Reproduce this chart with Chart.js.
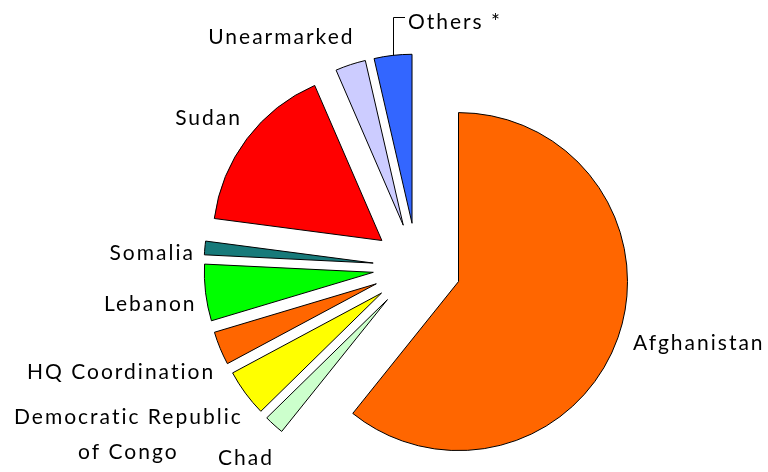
<!DOCTYPE html>
<html>
<head>
<meta charset="utf-8">
<script src="https://cdn.jsdelivr.net/npm/chart.js@4.4.0/dist/chart.umd.min.js"></script>
<style>
  html, body { margin: 0; padding: 0; background: #ffffff; }
  #wrap { width: 768px; height: 472px; }
</style>
</head>
<body>
<div id="wrap"><canvas id="chart" width="768" height="472"></canvas></div>
<script>
// Funding shares by destination (percent of total)
const categories = ['Afghanistan', 'Chad', 'Democratic Republic of Congo', 'HQ Coordination',
                    'Lebanon', 'Somalia', 'Sudan', 'Unearmarked', 'Others *'];
const shares = [60.7, 1.9, 4.5, 3.2, 5.4, 1.3, 16.4, 2.9, 3.6];
const labelLines = [['Afghanistan'], ['Chad'], ['Democratic Republic', 'of Congo'], ['HQ Coordination'],
                    ['Lebanon'], ['Somalia'], ['Sudan'], ['Unearmarked'], ['Others *']];
const sliceColors = ['#FF6600', '#CCFFCC', '#FFFF00', '#FF6600', '#00FF00',
                     '#177A7A', '#FF0000', '#CCCCFF', '#3366FF'];

// Distance every slice is pulled out from the centre
const EXPLODE = 44;

// Label placement relative to the outer midpoint of each slice
const labelLayout = [
  { dx: 15,   dy: 6,   align: 'left' },
  { dx: -28,  dy: 33,  align: 'center' },
  { dx: -117, dy: 24,  align: 'center', lineStep: 35 },
  { dx: -5,   dy: 24,  align: 'right' },
  { dx: -9,   dy: 12,  align: 'right' },
  { dx: -10,  dy: 5,   align: 'right' },
  { dx: -5,   dy: -20, align: 'right' },
  { dx: 4,    dy: -27, align: 'right' },
  { dx: 15,   dy: -33, align: 'left', leader: { up: 38, right: 12 } }
];

const explodePlugin = {
  id: 'explode',
  afterDatasetUpdate(chart, args) {
    args.meta.data.forEach(arc => {
      const mid = (arc.startAngle + arc.endAngle) / 2;
      arc.x += Math.cos(mid) * EXPLODE;
      arc.y += Math.sin(mid) * EXPLODE;
    });
  }
};

const sliceLabelPlugin = {
  id: 'sliceLabels',
  afterDatasetsDraw(chart) {
    const ctx = chart.ctx;
    const arcs = chart.getDatasetMeta(0).data;
    ctx.save();
    ctx.font = '21px Lato, "Open Sans", sans-serif';
    ctx.fillStyle = '#000000';
    ctx.strokeStyle = '#000000';
    ctx.lineWidth = 1;
    ctx.textBaseline = 'middle';
    if ('letterSpacing' in ctx) ctx.letterSpacing = '2px';
    arcs.forEach((arc, i) => {
      const mid = (arc.startAngle + arc.endAngle) / 2;
      const ax = arc.x + Math.cos(mid) * arc.outerRadius;
      const ay = arc.y + Math.sin(mid) * arc.outerRadius;
      const lay = labelLayout[i];
      if (lay.leader) {
        ctx.beginPath();
        ctx.moveTo(Math.round(ax) + 0.5, ay);
        ctx.lineTo(Math.round(ax) + 0.5, Math.round(ay - lay.leader.up) + 0.5);
        ctx.lineTo(Math.round(ax) + lay.leader.right, Math.round(ay - lay.leader.up) + 0.5);
        ctx.stroke();
      }
      ctx.textAlign = lay.align;
      labelLines[i].forEach((line, k) => {
        ctx.fillText(line, ax + lay.dx, ay + lay.dy + k * (lay.lineStep || 0));
      });
    });
    ctx.restore();
  }
};

new Chart(document.getElementById('chart'), {
  type: 'pie',
  data: {
    labels: categories,
    datasets: [{
      data: shares,
      backgroundColor: sliceColors,
      borderColor: '#000000',
      borderWidth: 1,
      borderJoinStyle: 'miter'
    }]
  },
  options: {
    responsive: false,
    animation: false,
    radius: 169,
    layout: { padding: { left: 66, right: 0, top: 62, bottom: 0 } },
    plugins: {
      legend: { display: false },
      tooltip: { enabled: false }
    },
    events: []
  },
  plugins: [explodePlugin, sliceLabelPlugin]
});
</script>
</body>
</html>
